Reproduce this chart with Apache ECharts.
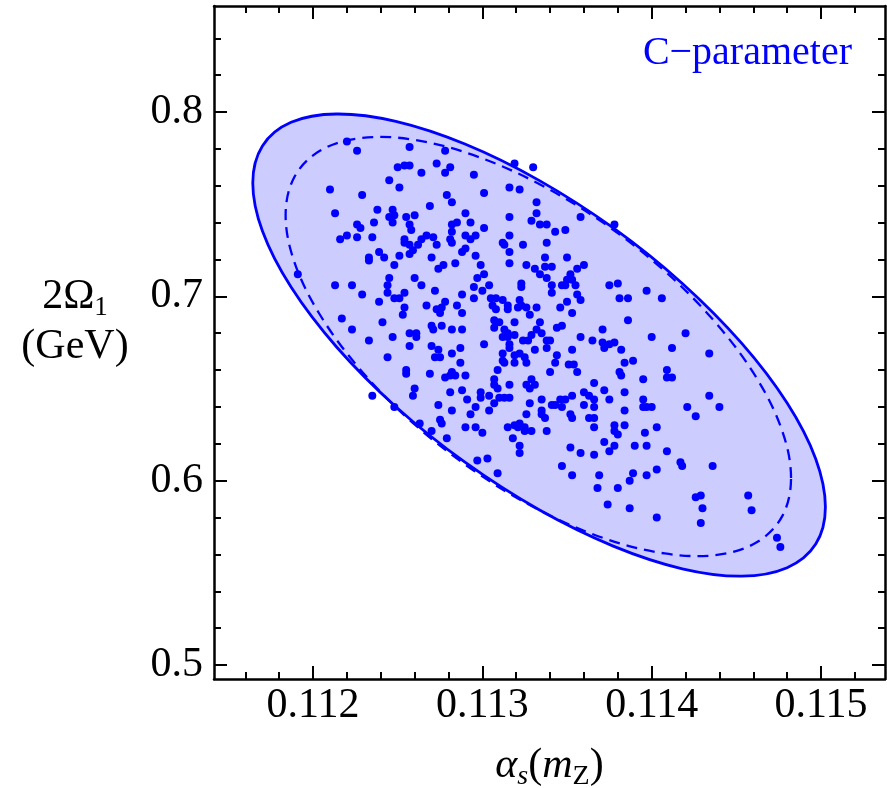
<!DOCTYPE html>
<html><head><meta charset="utf-8">
<script src="https://cdn.jsdelivr.net/npm/echarts@6/dist/echarts.min.js"></script>
<style>html,body{margin:0;padding:0;background:#fff}#c{width:887px;height:788px}</style>
</head><body><div id="c"></div>
<script>
// ---- axis ranges & ticks ----
const xMin = 0.111415, xMax = 0.115378;
const yMin = 0.4924, yMax = 0.8575;
const xMajorTicks = [0.112, 0.113, 0.114, 0.115];
const xMinorTicks = [0.1116, 0.1118, 0.1122, 0.1124, 0.1126, 0.1128, 0.1132, 0.1134, 0.1136, 0.1138, 0.1142, 0.1144, 0.1146, 0.1148, 0.1152];
const yMajorTicks = [0.5, 0.6, 0.7, 0.8];
const yMinorTicks = [0.52, 0.54, 0.56, 0.58, 0.62, 0.64, 0.66, 0.68, 0.72, 0.74, 0.76, 0.78, 0.82, 0.84];

// ---- contours ----
const outerEllipse = [[0.115026,0.5857],[0.114969,0.6118],[0.114800,0.6421],[0.114531,0.6746],[0.114181,0.7070],[0.113773,0.7371],[0.113335,0.7629],[0.112897,0.7826],[0.112489,0.7949],[0.112139,0.7989],[0.111870,0.7944],[0.111701,0.7816],[0.111644,0.7615],[0.111701,0.7354],[0.111870,0.7050],[0.112139,0.6725],[0.112489,0.6401],[0.112897,0.6100],[0.113335,0.5842],[0.113773,0.5645],[0.114181,0.5522],[0.114531,0.5482],[0.114800,0.5528],[0.114969,0.5656]];
const innerEllipse = [[0.114823,0.6014],[0.114772,0.6267],[0.114623,0.6552],[0.114386,0.6848],[0.114077,0.7137],[0.113717,0.7397],[0.113330,0.7612],[0.112944,0.7767],[0.112584,0.7851],[0.112275,0.7858],[0.112038,0.7788],[0.111889,0.7646],[0.111838,0.7441],[0.111889,0.7188],[0.112038,0.6904],[0.112275,0.6607],[0.112584,0.6318],[0.112944,0.6058],[0.113330,0.5843],[0.113717,0.5688],[0.114077,0.5605],[0.114386,0.5597],[0.114623,0.5667],[0.114772,0.5809]];

// ---- sampled fit points ----
const samplePoints = [
[0.11220,0.784],[0.11226,0.779],[0.11257,0.781],[0.11273,0.772],[0.11250,0.770],[0.11254,0.771],[0.11257,0.771],[0.11264,0.767],[0.11245,0.763],[0.11251,0.759],[0.11210,0.758],[0.11229,0.755],[0.11269,0.749],[0.11213,0.745],[0.11238,0.747],[0.11247,0.747],[0.11248,0.744],[0.11245,0.743],[0.11255,0.743],[0.11260,0.744],[0.11236,0.740],[0.11247,0.740],[0.11226,0.739],[0.11228,0.737],[0.11257,0.739],[0.11258,0.736],[0.11220,0.733],[0.11216,0.731],[0.11226,0.732],[0.11235,0.732],[0.11254,0.731],[0.11254,0.729],[0.11264,0.731],[0.11267,0.733],[0.11271,0.732],[0.11262,0.728],[0.11257,0.728],[0.11259,0.725],[0.11257,0.723],[0.11273,0.728],[0.11239,0.724],[0.11242,0.721],[0.11233,0.721],[0.11233,0.7195],[0.11251,0.722],[0.11248,0.717],[0.11270,0.721],[0.11277,0.717],[0.11274,0.715],
[0.11278,0.779],[0.11281,0.770],[0.11278,0.767],[0.11295,0.766],[0.11319,0.772],[0.11330,0.770],[0.11316,0.759],[0.11322,0.758],[0.11301,0.756],[0.11279,0.755],[0.11282,0.751],[0.11332,0.751],[0.11290,0.745],[0.11332,0.745],[0.11316,0.743],[0.11329,0.741],[0.11358,0.743],[0.11282,0.739],[0.11285,0.740],[0.11293,0.740],[0.11334,0.739],[0.11338,0.739],[0.11301,0.737],[0.11378,0.739],[0.11343,0.735],[0.11349,0.736],[0.11282,0.735],[0.11290,0.733],[0.11296,0.733],[0.11293,0.731],[0.11316,0.733],[0.11281,0.731],[0.11282,0.729],[0.11312,0.729],[0.11313,0.728],[0.11324,0.728],[0.11338,0.729],[0.11290,0.726],[0.11288,0.724],[0.11296,0.722],[0.11316,0.724],[0.11337,0.721],[0.11350,0.721],[0.11284,0.718],[0.11299,0.717],[0.11316,0.718],[0.11326,0.717],[0.11337,0.716],[0.11341,0.716],[0.11356,0.715],[0.11360,0.717],[0.11331,0.715],
[0.11191,0.712],[0.11213,0.706],[0.11223,0.706],[0.11245,0.710],[0.11244,0.706],[0.11244,0.702],[0.11260,0.710],[0.11264,0.706],[0.11229,0.701],[0.11248,0.699],[0.11251,0.699],[0.11254,0.702],[0.11272,0.703],[0.11239,0.697],[0.11254,0.694],[0.11267,0.695],[0.11273,0.693],[0.11253,0.690],[0.11217,0.688],[0.11241,0.686],[0.11270,0.684],[0.11271,0.682],[0.11223,0.682],[0.11257,0.680],[0.11261,0.680],[0.11261,0.678],[0.11247,0.678],[0.11233,0.676],[0.11257,0.673],[0.11270,0.673],[0.11274,0.671],[0.11272,0.667],[0.11275,0.667],[0.11244,0.667],[0.11255,0.660],[0.11255,0.658],[0.11269,0.658],[0.11260,0.650],[0.11259,0.646],[0.11235,0.646],[0.11274,0.641],[0.11248,0.640],[0.11263,0.631],[0.11270,0.627],
[0.11301,0.712],[0.11297,0.710],[0.11334,0.712],[0.11338,0.710],[0.11352,0.712],[0.11350,0.709],[0.11353,0.709],[0.11349,0.706],[0.11347,0.706],[0.11355,0.706],[0.11375,0.706],[0.11380,0.707],[0.11304,0.706],[0.11295,0.705],[0.11300,0.703],[0.11323,0.707],[0.11323,0.705],[0.11341,0.706],[0.11341,0.702],[0.11288,0.701],[0.11295,0.699],[0.11305,0.699],[0.11308,0.699],[0.11312,0.698],[0.11322,0.698],[0.11315,0.695],[0.11315,0.693],[0.11321,0.694],[0.11323,0.695],[0.11326,0.694],[0.11332,0.694],[0.11356,0.701],[0.11358,0.698],[0.11350,0.697],[0.11346,0.694],[0.11353,0.691],[0.11381,0.699],[0.11386,0.699],[0.11278,0.697],[0.11275,0.691],[0.11276,0.694],[0.11285,0.695],[0.11288,0.691],[0.11306,0.695],[0.11308,0.693],[0.11307,0.687],[0.11310,0.686],[0.11319,0.686],[0.11328,0.690],[0.11334,0.686],[0.11386,0.687],[0.11276,0.684],[0.11282,0.682],[0.11288,0.682],[0.11307,0.683],[0.11313,0.682],[0.11315,0.680],[0.11312,0.678],[0.11315,0.678],[0.11319,0.679],[0.11324,0.676],[0.11327,0.676],[0.11329,0.679],[0.11332,0.682],[0.11335,0.680],[0.11338,0.676],[0.11340,0.676],[0.11344,0.683],[0.11347,0.684],[0.11358,0.678],[0.11365,0.676],[0.11371,0.682],[0.11371,0.675],[0.11372,0.672],[0.11375,0.674],[0.11378,0.675],[0.11382,0.671],[0.11301,0.674],[0.11316,0.674],[0.11316,0.672],[0.11282,0.669],[0.11287,0.672],[0.11312,0.669],[0.11312,0.665],[0.11313,0.664],[0.11319,0.668],[0.11322,0.669],[0.11325,0.667],[0.11326,0.664],[0.11319,0.664],[0.11331,0.671],[0.11338,0.672],[0.11344,0.668],[0.11343,0.664],[0.11353,0.671],[0.11351,0.663],[0.11354,0.663],[0.11384,0.664],[0.11287,0.664],[0.11278,0.656],[0.11281,0.657],[0.11282,0.659],[0.11284,0.657],[0.11290,0.657],[0.11309,0.660],[0.11340,0.659],[0.11356,0.659],[0.11381,0.659],[0.11382,0.657],[0.11307,0.655],[0.11307,0.652],[0.11309,0.650],[0.11316,0.652],[0.11326,0.652],[0.11329,0.655],[0.11331,0.652],[0.11328,0.650],[0.11366,0.653],[0.11372,0.649],[0.11281,0.648],[0.11288,0.649],[0.11299,0.648],[0.11299,0.645],[0.11304,0.646],[0.11310,0.645],[0.11313,0.645],[0.11316,0.645],[0.11307,0.642],[0.11328,0.642],[0.11335,0.644],[0.11346,0.644],[0.11349,0.644],[0.11343,0.641],[0.11341,0.641],[0.11347,0.640],[0.11353,0.646],[0.11360,0.648],[0.11363,0.646],[0.11366,0.644],[0.11375,0.644],[0.11384,0.648],[0.11360,0.641],[0.11366,0.640],[0.11291,0.644],[0.11296,0.640],[0.11282,0.638],[0.11304,0.638],[0.11335,0.638],[0.11335,0.636],[0.11384,0.638],[0.11275,0.633],[0.11276,0.631],[0.11293,0.636],[0.11326,0.636],[0.11337,0.634],[0.11352,0.636],[0.11353,0.634],[0.11363,0.634],[0.11366,0.634],[0.11290,0.629],[0.11296,0.629],[0.11315,0.629],[0.11319,0.630],[0.11322,0.631],[0.11321,0.629],[0.11338,0.627],[0.11366,0.629],[0.11378,0.630],[0.11378,0.627],[0.11380,0.625],[0.11384,0.630],
[0.11397,0.703],[0.11406,0.699],[0.11400,0.678],[0.11420,0.680],[0.11412,0.672],[0.11434,0.669],[0.11389,0.665],[0.11409,0.660],[0.11409,0.656],[0.11412,0.656],[0.11395,0.655],[0.11434,0.646],[0.11395,0.644],[0.11395,0.640],[0.11397,0.640],[0.11400,0.640],[0.11421,0.640],[0.11440,0.640],[0.11426,0.635],[0.11403,0.629],
[0.11279,0.623],[0.11300,0.626],[0.11318,0.623],[0.11325,0.629],[0.11325,0.627],[0.11329,0.627],[0.11322,0.619],[0.11322,0.615],[0.11297,0.611],[0.11303,0.612],[0.11309,0.604],[0.11352,0.618],[0.11358,0.615],[0.11347,0.608],[0.11353,0.603],[0.11366,0.614],[0.11372,0.621],[0.11378,0.619],[0.11375,0.616],[0.11369,0.603],[0.11368,0.596],[0.11380,0.596],[0.11374,0.587],[0.11387,0.600],[0.11387,0.585],
[0.11396,0.626],[0.11390,0.619],[0.11397,0.619],[0.11409,0.616],[0.11417,0.610],[0.11418,0.608],[0.11436,0.608],[0.11389,0.604],[0.11397,0.603],[0.11403,0.606],[0.11426,0.591],[0.11429,0.592],[0.11430,0.585],[0.11429,0.577],[0.11403,0.580],[0.11457,0.592],[0.11459,0.584],[0.11474,0.569],[0.11476,0.564]
];

const titleText = 'C\u2212parameter';
const FONT = "'Liberation Serif','Times New Roman',serif";
const BLUE = '#0000ff';

function xAx(position, ticks, len, showLine, withLabel) {
  return {
    type: 'value', position, min: xMin, max: xMax,
    axisLine: { show: showLine, onZero: false, lineStyle: { color: '#000', width: 2.5 } },
    axisTick: { show: true, inside: true, length: len, customValues: ticks, lineStyle: { color: '#000', width: 2 } },
    axisLabel: { show: withLabel, customValues: ticks, formatter: v => v.toFixed(3), fontFamily: FONT, fontSize: 42, color: '#000', margin: 6 },
    splitLine: { show: false }, minorTick: { show: false }
  };
}
function yAx(position, ticks, len, showLine, withLabel) {
  return {
    type: 'value', position, min: yMin, max: yMax,
    axisLine: { show: showLine, onZero: false, lineStyle: { color: '#000', width: 2.5 } },
    axisTick: { show: true, inside: true, length: len, customValues: ticks, lineStyle: { color: '#000', width: 2 } },
    axisLabel: { show: withLabel, customValues: ticks, formatter: v => v.toFixed(1), fontFamily: FONT, fontSize: 42, color: '#000', margin: 11 },
    splitLine: { show: false }, minorTick: { show: false }
  };
}

const xMain = xAx('bottom', xMajorTicks, 13, true, true);
xMain.name = '{i|\u03b1}{is|s}{n|(}{i|m}{us|Z}{n|)}';
xMain.nameLocation = 'middle';
xMain.nameGap = 62;
xMain.nameTextStyle = {
  rich: {
    i: { fontFamily: FONT, fontStyle: 'italic', fontSize: 42, lineHeight: 50, color: '#000' },
    n: { fontFamily: FONT, fontSize: 42, lineHeight: 50, color: '#000' },
    is: { fontFamily: FONT, fontStyle: 'italic', fontSize: 28, lineHeight: 22, verticalAlign: 'bottom', color: '#000' },
    us: { fontFamily: FONT, fontSize: 28, lineHeight: 22, verticalAlign: 'bottom', color: '#000' }
  }
};

const yMain = yAx('left', yMajorTicks, 13, true, true);
yMain.name = '{m|2\u03a9}{s|1}\n{m|(GeV)}';
yMain.nameLocation = 'middle';
yMain.nameRotate = 0;
yMain.nameGap = 139;
yMain.nameTextStyle = {
  align: 'center', verticalAlign: 'middle', padding: [0, 0, 42, 0],
  rich: {
    m: { fontFamily: FONT, fontSize: 42, lineHeight: 50, color: '#000', align: 'center' },
    s: { fontFamily: FONT, fontSize: 27, lineHeight: 22, verticalAlign: 'bottom', color: '#000', align: 'center' }
  }
};

const chart = echarts.init(document.getElementById('c'), null, { renderer: 'canvas' });
chart.setOption({
  animation: false,
  backgroundColor: '#fff',
  title: {
    text: titleText, right: 30, top: 28,
    textStyle: { color: BLUE, fontFamily: FONT, fontSize: 40, fontWeight: 'normal' }
  },
  grid: { left: 214, right: 2, top: 6, bottom: 109, containLabel: false, outerBoundsMode: 'none' },
  xAxis: [
    xMain,
    xAx('bottom', xMinorTicks, 7, false, false),
    xAx('top', xMajorTicks, 13, true, false),
    xAx('top', xMinorTicks, 7, false, false)
  ],
  yAxis: [
    yMain,
    yAx('left', yMinorTicks, 7, false, false),
    yAx('right', yMajorTicks, 13, true, false),
    yAx('right', yMinorTicks, 7, false, false)
  ],
  series: [
    {
      type: 'custom', coordinateSystem: 'cartesian2d', xAxisIndex: 0, yAxisIndex: 0,
      data: outerEllipse, silent: true, z: 1,
      renderItem: (params, api) => {
        if (params.dataIndex !== 0) return null;
        return {
          type: 'polygon',
          shape: { points: outerEllipse.map(p => api.coord(p)), smooth: 0.35 },
          style: { fill: '#ccccff', stroke: BLUE, lineWidth: 2.8 }
        };
      }
    },
    {
      type: 'custom', coordinateSystem: 'cartesian2d', xAxisIndex: 0, yAxisIndex: 0,
      data: innerEllipse, silent: true, z: 2,
      renderItem: (params, api) => {
        if (params.dataIndex !== 0) return null;
        return {
          type: 'polygon',
          shape: { points: innerEllipse.map(p => api.coord(p)), smooth: 0.35 },
          style: { fill: 'none', stroke: BLUE, lineWidth: 2.3, lineDash: [11, 7] }
        };
      }
    },
    {
      type: 'scatter', xAxisIndex: 0, yAxisIndex: 0, z: 3,
      data: samplePoints, symbol: 'circle', symbolSize: 8,
      itemStyle: { color: BLUE, opacity: 1 }, silent: true
    }
  ]
});
</script>
</body></html>
